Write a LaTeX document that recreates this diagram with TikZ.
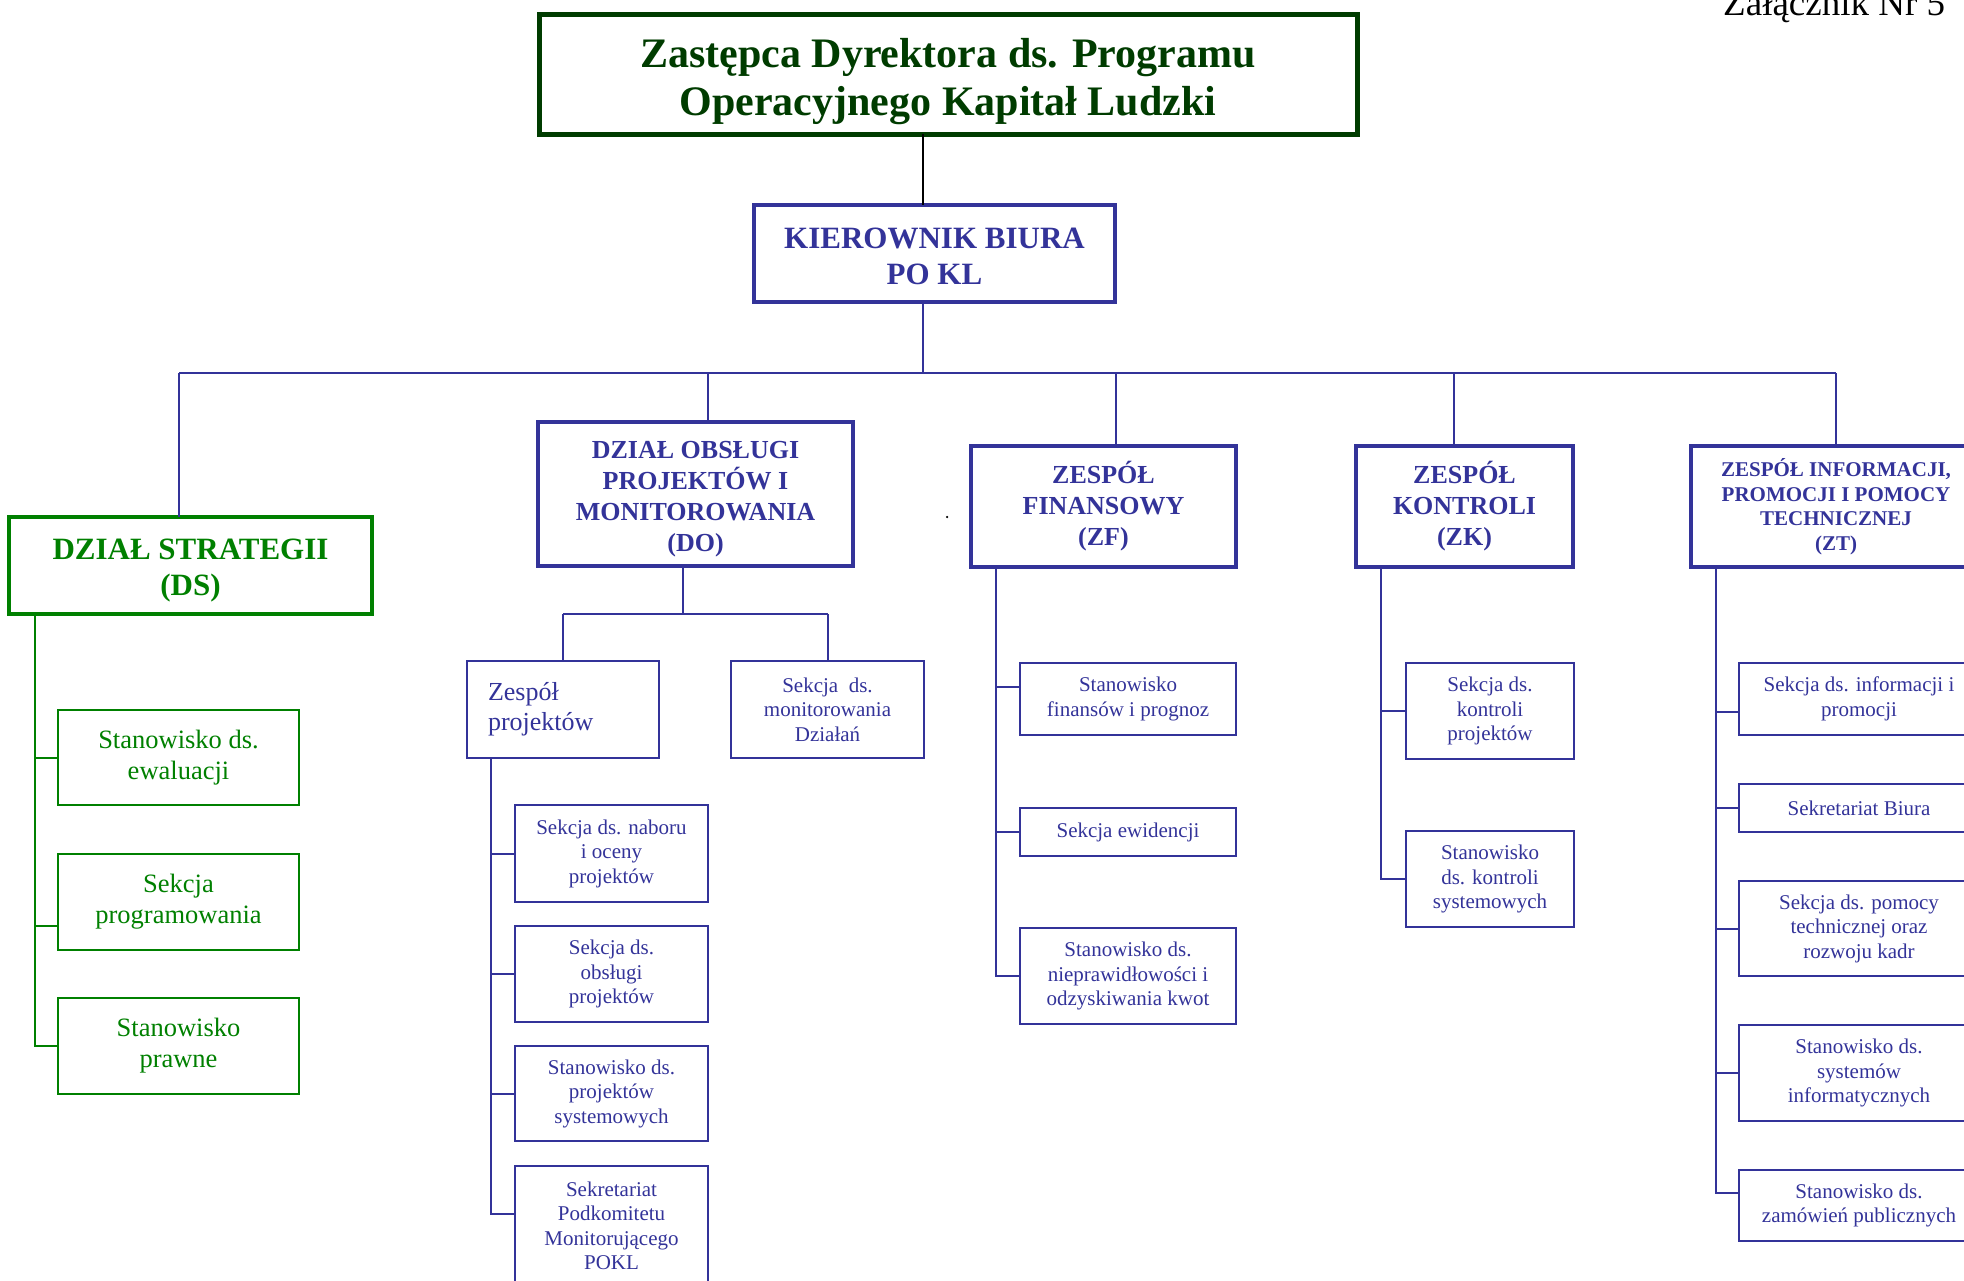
\documentclass[tikz,border=0pt]{standalone}
\usepackage{fontspec}
\setmainfont{Liberation Serif}
\definecolor{bl}{RGB}{51,51,153}
\definecolor{gr}{RGB}{0,128,0}
\definecolor{dg}{RGB}{0,60,0}
\begin{document}
\begin{tikzpicture}[x=1pt,y=-1pt,
  box/.style={draw, rectangle, inner sep=0pt, outer sep=0pt, align=center},
  hdbox/.style={box, draw=bl, line width=4pt, text=bl, font=\bfseries\fontsize{26}{31}\selectfont},
  subbox/.style={box, draw=bl, line width=2.5pt, text=bl, font=\fontsize{21}{24.5}\selectfont},
  gsubbox/.style={box, draw=gr, line width=2.5pt, text=gr, font=\fontsize{26.5}{31}\selectfont},
  lnk/.style={draw=bl, line width=2pt},
  glnk/.style={draw=gr, line width=2pt},
]
\useasboundingbox (0,0) rectangle (1964,1280);

% header text
\node[anchor=base west, inner sep=0pt, font=\fontsize{37}{40}\selectfont] (zal) at (1723,15) {Załącznik Nr 5};

% top boxes
\node[box, draw=dg, line width=5pt, text=dg, font=\bfseries\fontsize{42}{48}\selectfont,
      minimum width=818, minimum height=120] (top) at (948,74)
      {\rule{0pt}{44pt}Zastępca Dyrektora ds. Programu\\Operacyjnego Kapitał Ludzki};
\node[hdbox, font=\bfseries\fontsize{31}{36}\selectfont, minimum width=361, minimum height=97] (kier) at (934.5,253.5)
      {\rule{0pt}{26pt}KIEROWNIK BIURA\\PO KL};

% level 2
\node[box, draw=gr, line width=4pt, text=gr, font=\bfseries\fontsize{31}{36}\selectfont,
      minimum width=363, minimum height=97] (ds) at (190.5,565.5) {\rule{0pt}{31pt}DZIAŁ STRATEGII\\(DS)};
\node[hdbox, minimum width=315, minimum height=144] (do) at (695.5,494)
      {\rule{0pt}{27pt}DZIAŁ OBSŁUGI\\PROJEKTÓW I\\MONITOROWANIA\\(DO)};
\node[hdbox, minimum width=265, minimum height=121] (zf) at (1103.5,506.5) {ZESPÓŁ\\FINANSOWY\\(ZF)};
\node[hdbox, minimum width=217, minimum height=121] (zk) at (1464.5,506.5) {ZESPÓŁ\\KONTROLI\\(ZK)};
\node[hdbox, font=\bfseries\fontsize{21}{24.5}\selectfont, minimum width=290, minimum height=121] (zt) at (1836,506.5)
      {ZESPÓŁ INFORMACJI,\\PROMOCJI I POMOCY\\TECHNICZNEJ\\(ZT)};

% stray dot
\node[circle, fill=black, inner sep=0pt, minimum size=2.5pt] (dotmark) at (947,517) {};

% DS children
\node[gsubbox, minimum width=241, minimum height=95] (dsc1) at (178.5,757.5) {Stanowisko ds.\\ewaluacji};
\node[gsubbox, minimum width=241, minimum height=96] (dsc2) at (178.5,902) {Sekcja\\programowania};
\node[gsubbox, minimum width=241, minimum height=96] (dsc3) at (178.5,1046) {Stanowisko\\prawne};

% DO children
\node[subbox, font=\fontsize{26}{30}\selectfont, align=left, text width=150, minimum width=192, minimum height=97]
      (zp) at (563,709.5) {Zespół\\projektów};
\node[subbox, minimum width=193, minimum height=97] (smon) at (827.5,709.5) {Sekcja~ ds.\\monitorowania\\Działań};
\node[subbox, minimum width=193, minimum height=97] (doc1) at (611.5,853.5) {Sekcja ds. naboru\\i oceny\\projektów};
\node[subbox, minimum width=193, minimum height=96] (doc2) at (611.5,974) {Sekcja ds.\\obsługi\\projektów};
\node[subbox, minimum width=193, minimum height=95] (doc3) at (611.5,1093.5) {Stanowisko ds.\\projektów\\systemowych};
\node[subbox, minimum width=193, minimum height=120] (doc4) at (611.5,1226) {Sekretariat\\Podkomitetu\\Monitorującego\\POKL};

% ZF children
\node[subbox, minimum width=216, minimum height=72] (zfc1) at (1128,699) {Stanowisko\\finansów i prognoz};
\node[subbox, minimum width=216, minimum height=48] (zfc2) at (1128,832) {Sekcja ewidencji};
\node[subbox, minimum width=216, minimum height=96] (zfc3) at (1128,976) {Stanowisko ds.\\nieprawidłowości i\\odzyskiwania kwot};

% ZK children
\node[subbox, minimum width=168, minimum height=96] (zkc1) at (1490,711) {Sekcja ds.\\kontroli\\projektów};
\node[subbox, minimum width=168, minimum height=96] (zkc2) at (1490,879) {Stanowisko\\ds. kontroli\\systemowych};

% ZT children
\node[subbox, minimum width=240, minimum height=72] (ztc1) at (1859,699) {Sekcja ds. informacji i\\promocji};
\node[subbox, minimum width=240, minimum height=48] (ztc2) at (1859,808) {Sekretariat Biura};
\node[subbox, minimum width=240, minimum height=95] (ztc3) at (1859,928.5) {Sekcja ds. pomocy\\technicznej oraz\\rozwoju kadr};
\node[subbox, minimum width=240, minimum height=96] (ztc4) at (1859,1073) {Stanowisko ds.\\systemów\\informatycznych};
\node[subbox, minimum width=240, minimum height=71] (ztc5) at (1859,1205.5) {Stanowisko ds.\\zamówień publicznych};

% connectors: top
\coordinate (kx) at (923,0);
\draw[black, line width=2pt] (top.south -| kx) -- (kier.north -| kx);
\coordinate (bus) at (923,373);
\draw[lnk] (kier.south -| bus) -- (bus);
\coordinate (bL) at (179,373);
\coordinate (b2) at (708,373);
\coordinate (b3) at (1116,373);
\coordinate (b4) at (1454,373);
\coordinate (bR) at (1836,373);
\draw[lnk] (bL) -- (bR);
\draw[lnk] (bL) -- (ds.north -| bL);
\draw[lnk] (b2) -- (do.north -| b2);
\draw[lnk] (b3) -- (zf.north -| b3);
\draw[lnk] (b4) -- (zk.north -| b4);
\draw[lnk] (bR) -- (zt.north -| bR);

% DS branch
\coordinate (dst) at (35,0);
\coordinate (c2) at ([yshift=-24pt]dsc2.west);
\draw[glnk] (ds.south -| dst) |- (dsc3.west);
\draw[glnk] (dst |- dsc1.west) -- (dsc1.west);
\draw[glnk] (dst |- c2) -- (c2);

% DO branch
\coordinate (dsb) at (683,614);
\coordinate (sbl) at (563,614);
\coordinate (sbr) at (828,614);
\draw[lnk] (do.south -| dsb) -- (dsb);
\draw[lnk] (sbl) -- (sbr);
\draw[lnk] (sbl) -- (zp.north -| sbl);
\draw[lnk] (sbr) -- (smon.north -| sbr);
\coordinate (dotr) at (491,0);
\coordinate (c4) at ([yshift=12pt]doc4.west);
\draw[lnk] (zp.south -| dotr) |- (c4);
\draw[lnk] (dotr |- doc1.west) -- (doc1.west);
\draw[lnk] (dotr |- doc2.west) -- (doc2.west);
\draw[lnk] (dotr |- doc3.west) -- (doc3.west);

% ZF branch
\coordinate (zft) at (996,0);
\coordinate (f1) at ([yshift=12pt]zfc1.west);
\draw[lnk] (zf.south -| zft) |- (zfc3.west);
\draw[lnk] (zft |- f1) -- (f1);
\draw[lnk] (zft |- zfc2.west) -- (zfc2.west);

% ZK branch
\coordinate (zkt) at (1381,0);
\draw[lnk] (zk.south -| zkt) |- (zkc2.west);
\draw[lnk] (zkt |- zkc1.west) -- (zkc1.west);

% ZT branch
\coordinate (ztt) at (1716,0);
\coordinate (t1) at ([yshift=-13pt]ztc1.west);
\coordinate (t5) at ([yshift=12.5pt]ztc5.west);
\draw[lnk] (zt.south -| ztt) |- (t5);
\draw[lnk] (ztt |- t1) -- (t1);
\draw[lnk] (ztt |- ztc2.west) -- (ztc2.west);
\draw[lnk] (ztt |- ztc3.west) -- (ztc3.west);
\draw[lnk] (ztt |- ztc4.west) -- (ztc4.west);
\end{tikzpicture}
\end{document}
